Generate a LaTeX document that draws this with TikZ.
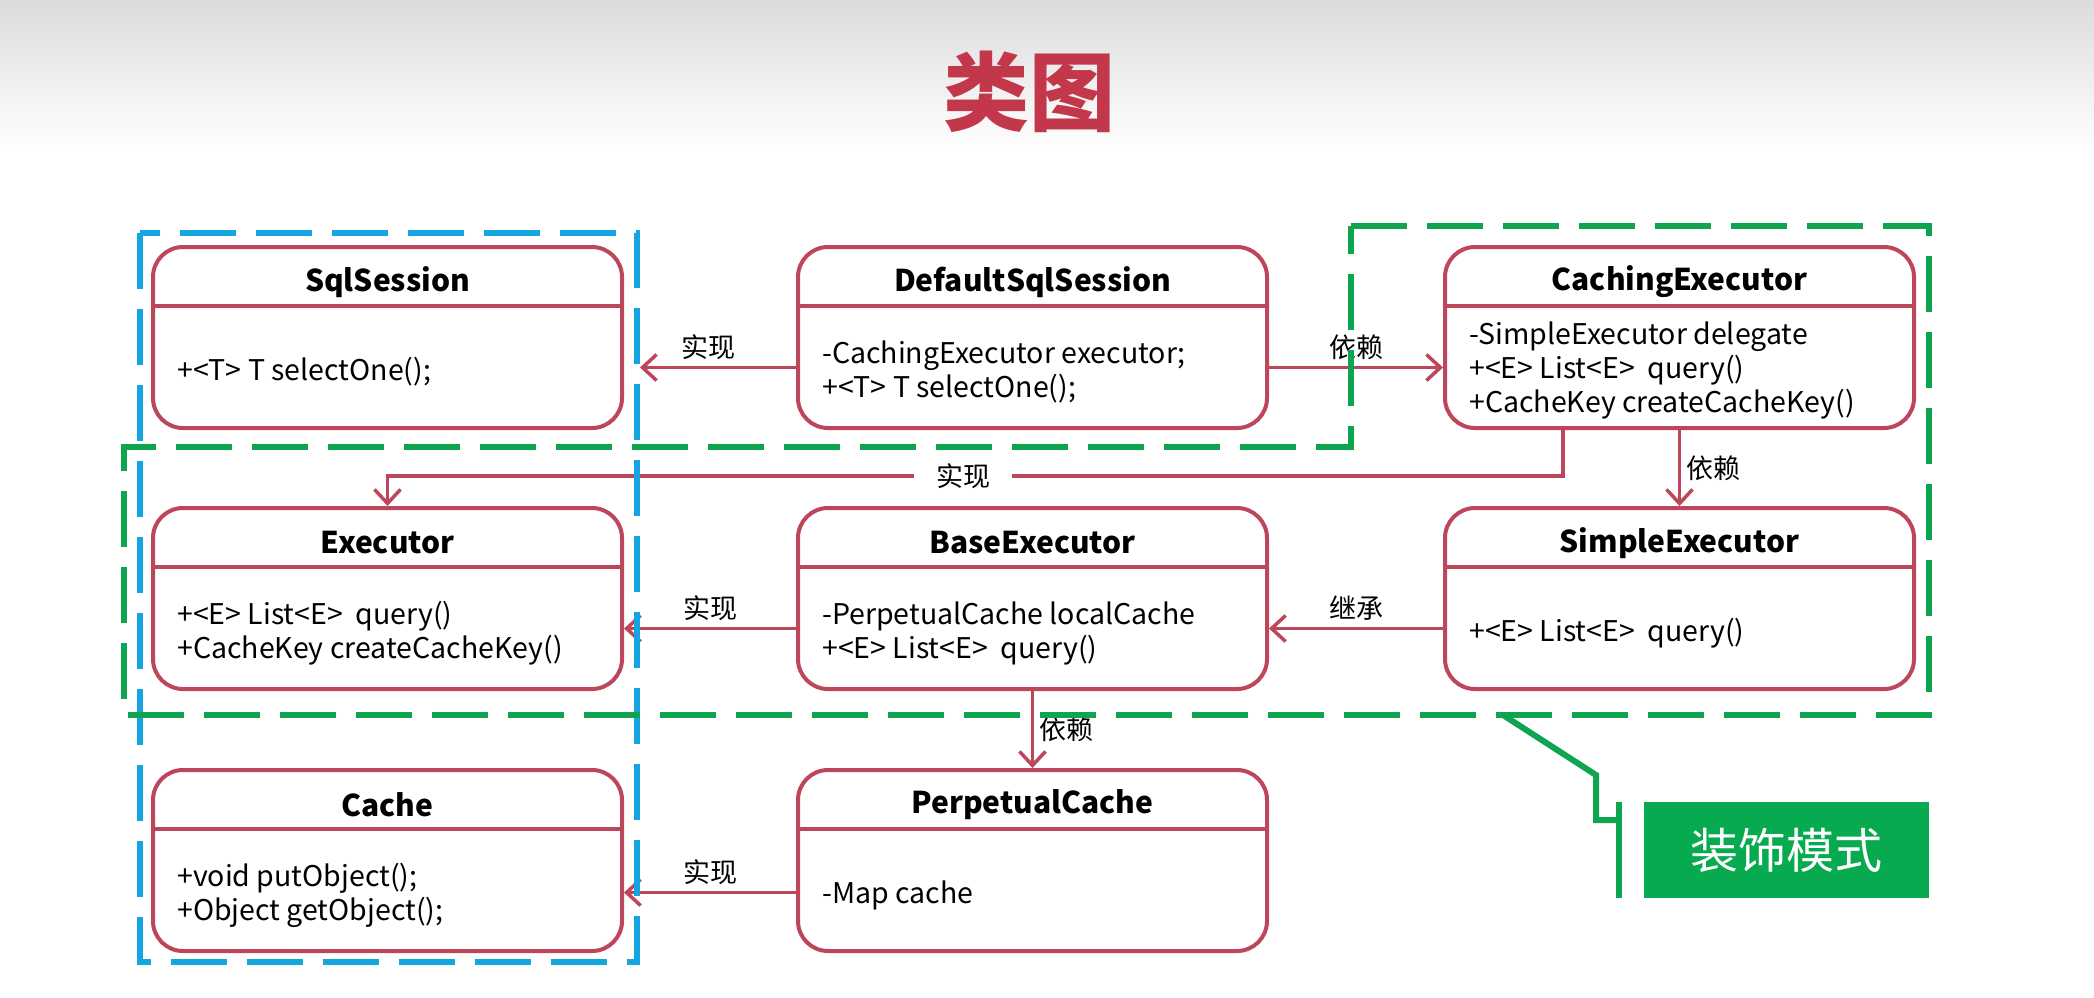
\documentclass[tikz,border=0pt]{standalone}
\usepackage{fontspec}
\setmainfont{Noto Sans CJK SC}
\usepackage{tikz}
\usetikzlibrary{arrows.meta}

\definecolor{umlred}{RGB}{190,70,90}
\definecolor{titlered}{RGB}{195,55,75}
\definecolor{frameblue}{RGB}{20,165,225}
\definecolor{framegreen}{RGB}{15,165,80}
\definecolor{tagbg}{RGB}{8,170,80}

\begin{document}
\begin{tikzpicture}[x=1pt, y=-1pt,
	cls/.style={draw=umlred, line width=4pt, rounded corners=30pt, minimum width=469pt, minimum height=181pt, inner sep=0pt},
	clstitle/.style={font=\fontsize{30}{36}\selectfont\bfseries},
	clsbody/.style={anchor=west, align=left, inner sep=0pt, font=\fontsize{28.5}{34}\selectfont},
	rel/.style={draw=umlred, line width=3.5pt, -{Straight Barb[length=14pt,width=26pt]}},
	lbl/.style={font=\fontsize{27}{32}\selectfont, inner sep=2pt},
	grp/.style={line width=6pt, dash pattern=on 56pt off 20pt}]
	\useasboundingbox (0,0) rectangle (2094,997);
	\fill[white] (0,0) rectangle (2094,997);
	\shade[top color={rgb,255:red,220;green,220;blue,220}, bottom color=white] (0,0) rectangle (2094,150);
	\node[font=\fontsize{86}{90}\selectfont\bfseries, text=titlered] (title) at (1029,92) {类图};

	\foreach \nm/\cx/\cy/\ttl in {sqls/387.5/337.5/SqlSession, dsqls/1032.5/337.5/DefaultSqlSession, cexec/1679.5/337.5/CachingExecutor,
		exec/387.5/598.5/Executor, bexec/1032.5/598.5/BaseExecutor, sexec/1679.5/598.5/SimpleExecutor,
		cache/387.5/860.5/Cache, pcache/1032.5/860.5/PerpetualCache} {
		\node[cls] (\nm) at (\cx,\cy) {};
		\draw[umlred, line width=4pt] ([yshift=-61pt]\nm.north west) -- ([yshift=-61pt]\nm.north east);
		\node[clstitle] (\nm-t) at ([yshift=-37pt]\nm.north) {\ttl};
	}
	\node[clsbody] (sqls-b) at ([xshift=26pt,yshift=-127pt]sqls.north west) {+<T> T selectOne();};
	\node[clsbody] (dsqls-b) at ([xshift=26pt,yshift=-127pt]dsqls.north west) {-CachingExecutor executor;\\+<T> T selectOne();};
	\node[clsbody] (cexec-b) at ([xshift=26pt,yshift=-125pt]cexec.north west) {-SimpleExecutor delegate\\+<E> List<E> \ query()\\+CacheKey createCacheKey()};
	\node[clsbody] (exec-b) at ([xshift=26pt,yshift=-127pt]exec.north west) {+<E> List<E> \ query()\\+CacheKey createCacheKey()};
	\node[clsbody] (bexec-b) at ([xshift=26pt,yshift=-127pt]bexec.north west) {-PerpetualCache localCache\\+<E> List<E> \ query()};
	\node[clsbody] (sexec-b) at ([xshift=26pt,yshift=-127pt]sexec.north west) {+<E> List<E> \ query()};
	\node[clsbody] (cache-b) at ([xshift=26pt,yshift=-127pt]cache.north west) {+void putObject();\\+Object getObject();};
	\node[clsbody] (pcache-b) at ([xshift=26pt,yshift=-127pt]pcache.north west) {-Map cache};

	% relations
	\draw[rel] ([yshift=-30pt]dsqls.west) -- ([xshift=16pt,yshift=-30pt]sqls.east) node[lbl, midway, above=4pt, xshift=-10pt] {实现};
	\draw[rel] ([yshift=-30pt]dsqls.east) -- ([yshift=-30pt]cexec.west) node[lbl, midway, above=4pt] {依赖};
	\draw[rel] ([xshift=-116.5pt]cexec.south) -- ++(0,46) -| (exec.north) node[lbl, pos=0.255, fill=white, inner xsep=22pt] {实现};
	\draw[rel] (cexec.south) -- (sexec.north) node[lbl, midway, right=3pt] {依赖};
	\draw[rel] ([yshift=-30pt]sexec.west) -- ([yshift=-30pt]bexec.east) node[lbl, midway, above=4pt] {继承};
	\draw[rel] ([yshift=-30pt]bexec.west) -- ([yshift=-30pt]exec.east) node[lbl, midway, above=4pt] {实现};
	\draw[rel] (bexec.south) -- (pcache.north) node[lbl, midway, right=3pt] {依赖};
	\draw[rel] ([yshift=-32pt]pcache.west) -- ([yshift=-32pt]cache.east) node[lbl, midway, above=4pt] {实现};

	% groups
	\draw[frameblue, grp] (140,233) rectangle (637,962);
	\draw[framegreen, grp] (1351,226) -- (1929,226) -- (1929,715) -- (124,715) -- (124,447) -- (1351,447) -- cycle;

	% decorator tag
	\node[fill=tagbg, text=white, minimum width=285pt, minimum height=96pt, font=\fontsize{48}{56}\selectfont] (tag) at (1786.5,850) {装饰模式};
	\draw[framegreen, line width=6pt] (1503,715) -- (1596,775) -- (1596,820) -- (1619,820);
	\draw[framegreen, line width=6pt] ([xshift=-25pt]tag.north west) -- ([xshift=-25pt]tag.south west);
\end{tikzpicture}
\end{document}
